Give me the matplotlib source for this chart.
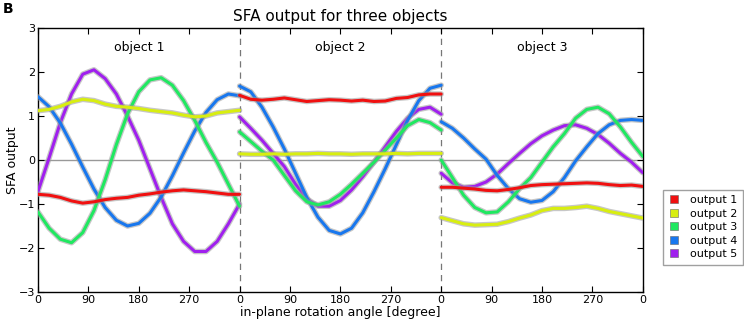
import numpy as np
import matplotlib.pyplot as plt
import matplotlib.patheffects as pe
from matplotlib.lines import Line2D

# angle samples within one object (degrees)
deg = [0, 20, 40, 60, 80, 100, 120, 140, 160, 180, 200, 220, 240, 260, 280, 300, 320, 340, 360]

objects = ['object 1', 'object 2', 'object 3']
outputs = ['output 1', 'output 2', 'output 3', 'output 4', 'output 5']
colors = ['#f01010', '#d8ee10', '#20e860', '#1877ee', '#a020ee']

# object 1
obj1_out1 = [-0.78, -0.80, -0.85, -0.93, -0.98, -0.95, -0.90, -0.87, -0.85, -0.80, -0.77, -0.73, -0.70, -0.68, -0.70, -0.72, -0.75, -0.78, -0.78]
obj1_out2 = [1.12, 1.15, 1.22, 1.32, 1.38, 1.35, 1.27, 1.22, 1.20, 1.17, 1.13, 1.10, 1.07, 1.02, 0.98, 1.00, 1.07, 1.10, 1.13]
obj1_out3 = [-1.18, -1.55, -1.80, -1.88, -1.65, -1.15, -0.45, 0.35, 1.05, 1.55, 1.82, 1.87, 1.70, 1.35, 0.90, 0.40, -0.05, -0.55, -1.05]
obj1_out4 = [1.44, 1.21, 0.84, 0.36, -0.16, -0.66, -1.08, -1.37, -1.50, -1.44, -1.21, -0.84, -0.36, 0.16, 0.66, 1.08, 1.37, 1.50, 1.46]
obj1_out5 = [-0.72, 0.05, 0.85, 1.50, 1.95, 2.05, 1.85, 1.50, 1.00, 0.45, -0.20, -0.85, -1.45, -1.85, -2.08, -2.08, -1.85, -1.45, -1.00]

# object 2
obj2_out1 = [1.47, 1.38, 1.36, 1.38, 1.41, 1.37, 1.33, 1.35, 1.37, 1.36, 1.34, 1.36, 1.33, 1.34, 1.40, 1.42, 1.48, 1.50, 1.50]
obj2_out2 = [0.14, 0.13, 0.13, 0.14, 0.13, 0.14, 0.14, 0.15, 0.14, 0.14, 0.13, 0.14, 0.14, 0.14, 0.15, 0.14, 0.15, 0.15, 0.15]
obj2_out3 = [0.64, 0.42, 0.20, 0.00, -0.35, -0.70, -0.95, -1.02, -0.95, -0.78, -0.55, -0.30, -0.05, 0.22, 0.50, 0.78, 0.92, 0.85, 0.68]
obj2_out4 = [1.68, 1.55, 1.20, 0.75, 0.25, -0.30, -0.85, -1.30, -1.60, -1.68, -1.55, -1.20, -0.72, -0.20, 0.35, 0.90, 1.35, 1.63, 1.70]
obj2_out5 = [0.98, 0.72, 0.45, 0.15, -0.15, -0.55, -0.88, -1.05, -1.05, -0.92, -0.68, -0.38, -0.05, 0.30, 0.65, 0.95, 1.15, 1.20, 1.04]

# object 3
obj3_out1 = [-0.62, -0.62, -0.64, -0.66, -0.69, -0.70, -0.67, -0.63, -0.58, -0.56, -0.55, -0.54, -0.53, -0.52, -0.53, -0.56, -0.58, -0.57, -0.60]
obj3_out2 = [-1.31, -1.38, -1.45, -1.48, -1.47, -1.46, -1.40, -1.32, -1.25, -1.15, -1.10, -1.10, -1.08, -1.05, -1.10, -1.17, -1.22, -1.27, -1.32]
obj3_out3 = [0.00, -0.40, -0.80, -1.08, -1.20, -1.18, -0.95, -0.65, -0.40, -0.05, 0.30, 0.60, 0.95, 1.15, 1.20, 1.05, 0.75, 0.40, 0.08]
obj3_out4 = [0.87, 0.72, 0.50, 0.25, 0.02, -0.35, -0.65, -0.88, -0.96, -0.92, -0.72, -0.40, -0.02, 0.30, 0.60, 0.80, 0.90, 0.92, 0.90]
obj3_out5 = [-0.30, -0.52, -0.62, -0.60, -0.50, -0.32, -0.08, 0.15, 0.37, 0.55, 0.68, 0.78, 0.80, 0.72, 0.58, 0.38, 0.15, -0.05, -0.29]

data = [
    [obj1_out1, obj1_out2, obj1_out3, obj1_out4, obj1_out5],
    [obj2_out1, obj2_out2, obj2_out3, obj2_out4, obj2_out5],
    [obj3_out1, obj3_out2, obj3_out3, obj3_out4, obj3_out5],
]

tick_pos = [0, 90, 180, 270, 360, 450, 540, 630, 720, 810, 900, 990, 1080]
tick_lab = ['0', '90', '180', '270', '0', '90', '180', '270', '0', '90', '180', '270', '0']

fig = plt.figure(figsize=(7.44, 3.2), dpi=100)
ax = fig.add_axes([0.051, 0.0875, 0.813, 0.825])

halo = [pe.Stroke(linewidth=4.0, foreground='#999999', alpha=0.55), pe.Normal()]
d = np.array(deg)
for k, obj in enumerate(data):
    for j, vals in enumerate(obj):
        ax.plot(d + 360 * k, vals, color=colors[j], lw=2.2,
                solid_capstyle='round', solid_joinstyle='round',
                path_effects=halo, zorder=3 + (4 - j) * 0.1)
    ax.text(360 * k + 180, 2.55, objects[k], ha='center', va='center', fontsize=9)

ax.axhline(0, color='#999999', lw=1.0, zorder=1)
for b in [360, 720]:
    ax.axvline(b, color='#777777', lw=0.9, ls=(0, (5, 4)), zorder=1)

ax.set_xlim(0, 1080)
ax.set_ylim(-3, 3)
ax.set_xticks(tick_pos)
ax.set_xticklabels(tick_lab)
ax.set_yticks([-3, -2, -1, 0, 1, 2, 3])
ax.tick_params(direction='in', top=True, right=True, length=4, labelsize=8, pad=2)
for s in ax.spines.values():
    s.set_linewidth(1.0)

ax.set_title('SFA output for three objects', fontsize=11, pad=5)
ax.set_ylabel('SFA output', fontsize=9, labelpad=0)
ax.set_xlabel('in-plane rotation angle [degree]', fontsize=9, labelpad=1)

handles = [Line2D([], [], ls='none', marker='s', markersize=6, color=c,
                  markeredgecolor='#666666', markeredgewidth=0.4) for c in colors]
fig.legend(handles, outputs, loc='center left', bbox_to_anchor=(0.883, 0.29),
           fontsize=8, frameon=True, fancybox=False, edgecolor='#888888',
           handlelength=1.0, handletextpad=1.0, labelspacing=0.32, borderpad=0.5)

# panel letter (cut off at the top in the reference, kept whole here)
fig.text(0.004, 0.995, 'B', fontsize=10, fontweight='bold', va='top')

fig.savefig('out.png', dpi=100)
